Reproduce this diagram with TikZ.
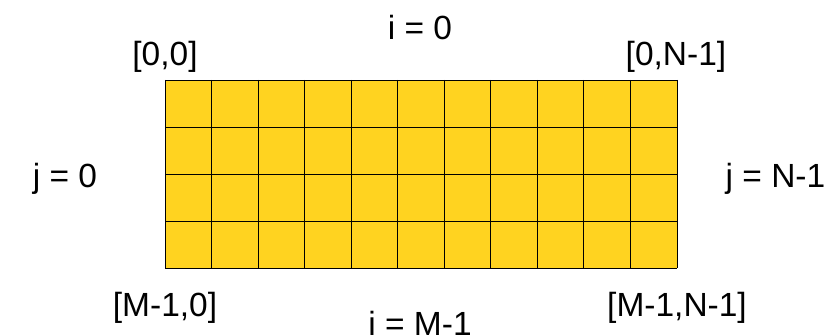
\documentclass[tikz,border=0pt]{standalone}
\usepackage{fontspec}
\setmainfont{Liberation Sans}
\definecolor{cellyellow}{HTML}{FFD320}
\begin{document}
\begin{tikzpicture}[x=1pt,y=-1pt,
  lbl/.style={anchor=base,inner sep=0pt,font=\fontsize{33.5}{40}\selectfont},
  gridline/.style={line width=0.9pt,black}]
\useasboundingbox (0,0) rectangle (840,336);
\fill[cellyellow] (165,80) rectangle (677,268);
\foreach \k in {0,...,11}{
  \draw[gridline] ({165+\k*512/11},80) -- ({165+\k*512/11},268);
}
\foreach \k in {0,...,4}{
  \draw[gridline] (165,{80+\k*47}) -- (677,{80+\k*47});
}
\node[lbl] (i0) at (420,40) {i = 0};
\node[lbl] (c00) at (165,65.5) {[0,0]};
\node[lbl] (c0n) at (676,65.5) {[0,N-1]};
\node[lbl] (j0) at (65,188) {j = 0};
\node[lbl] (jn) at (775.5,188) {j = N-1};
\node[lbl] (cm0) at (165,316.5) {[M-1,0]};
\node[lbl] (cmn) at (677,316.5) {[M-1,N-1]};
\node[lbl] (im) at (420,335) {i = M-1};
\end{tikzpicture}
\end{document}
